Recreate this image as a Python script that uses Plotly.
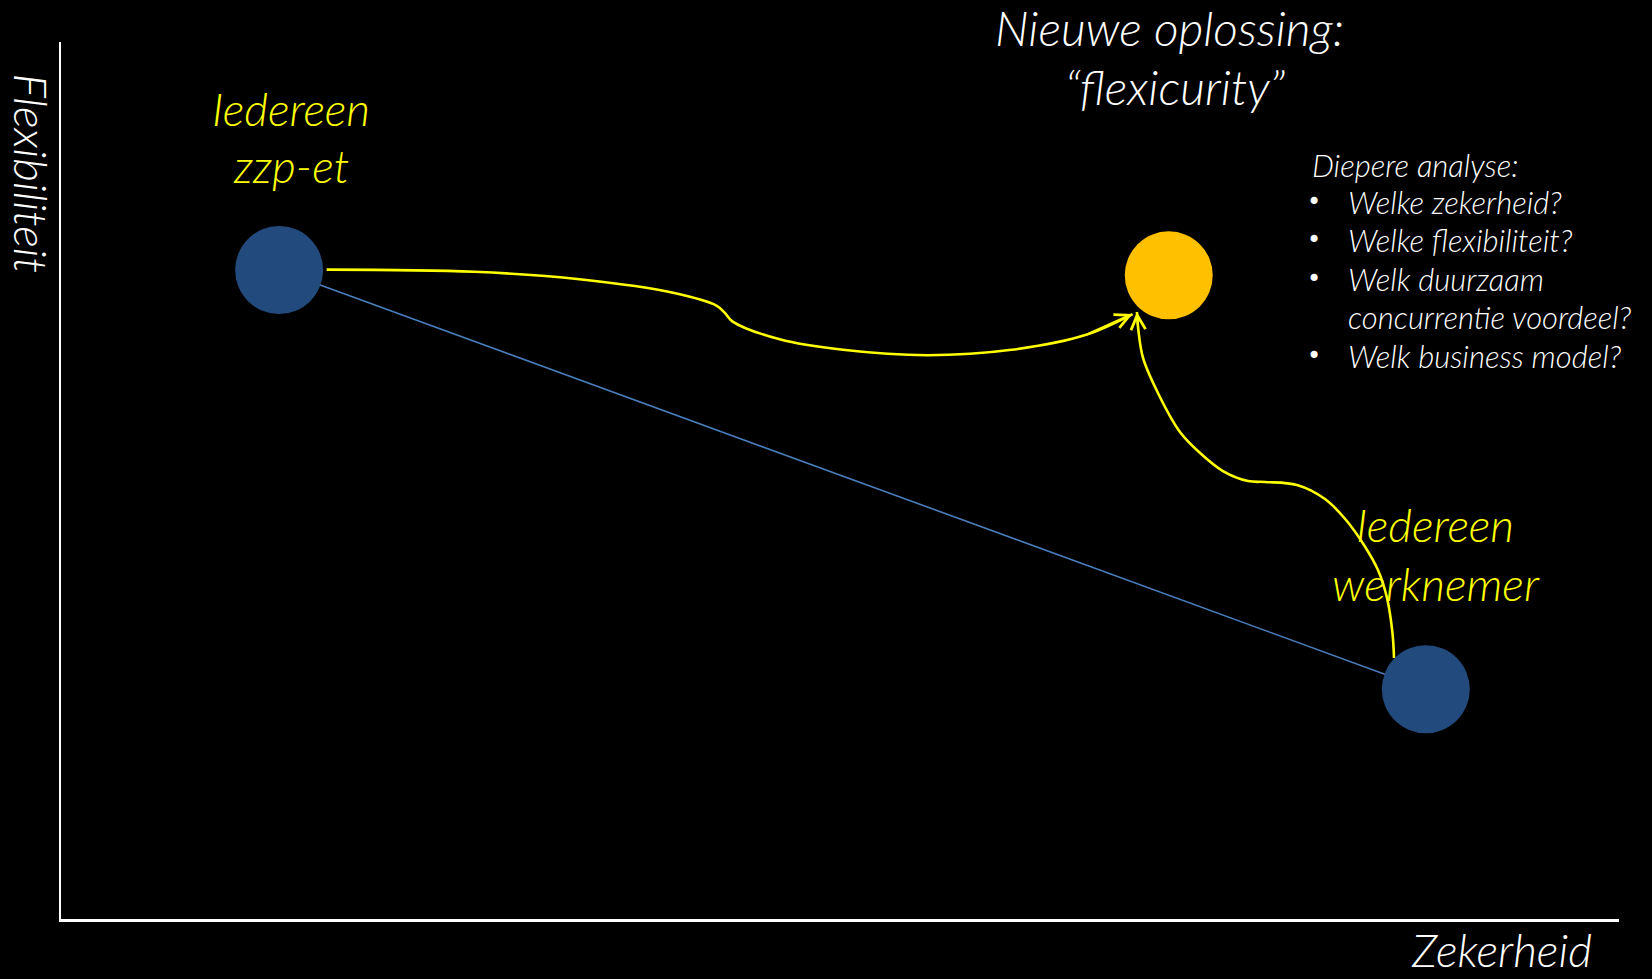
import plotly.graph_objects as go

# --- data (axis units 0..100) ---
node_names = ["Iedereen zzp-et", "Nieuwe oplossing", "Iedereen werknemer"]
node_x = [14.0, 71.1, 87.6]
node_y = [74.0, 73.4, 26.2]
node_colors = ["#234A7C", "#FFC000", "#234A7C"]

# straight trade-off line between the two extremes
trade_x = [14.0, 87.6]
trade_y = [74.0, 26.2]

# path from "Iedereen zzp-et" to the new solution
path1_x = [17.05, 26.52, 33.28, 39.36, 42.07, 42.61, 43.09, 46.13, 50.19, 55.60, 61.01, 65.74, 68.78]
path1_y = [74.04, 73.80, 72.95, 71.39, 69.95, 69.11, 68.15, 66.10, 64.90, 64.29, 64.90, 66.58, 68.98]

# path from "Iedereen werknemer" to the new solution
path2_x = [85.56, 85.46, 85.11, 84.53, 83.63, 82.48, 81.13, 79.33, 77.28, 76.19, 74.58, 73.04, 71.82, 70.47, 69.45, 69.13, 69.06]
path2_y = [29.76, 32.61, 36.60, 39.79, 42.65, 45.50, 47.89, 49.49, 49.83, 49.94, 51.08, 53.25, 55.53, 59.75, 63.97, 67.50, 69.21]

bullet_title = "Diepere analyse:"
bullet_items = ["Welke zekerheid?", "Welke flexibiliteit?", "Welk duurzaam", "concurrentie voordeel?", "Welk business model?"]
bullet_marks = [True, True, True, False, True]
bullet_rows = [81.76, 77.42, 72.98, 68.64, 64.20]

x_title = "Zekerheid"
y_title = "Flexibiliteit"

FONT = "Lato"
YELLOW = "#FFFF00"

fig = go.Figure()

fig.add_trace(go.Scatter(x=trade_x, y=trade_y, mode="lines",
                         line=dict(color="#4A7EBB", width=1.6), hoverinfo="skip"))
fig.add_trace(go.Scatter(x=path1_x, y=path1_y, mode="lines",
                         line=dict(color=YELLOW, width=2.6, shape="spline"), hoverinfo="skip"))
fig.add_trace(go.Scatter(x=path2_x, y=path2_y, mode="lines",
                         line=dict(color=YELLOW, width=2.6, shape="spline"), hoverinfo="skip"))
fig.add_trace(go.Scatter(x=node_x, y=node_y, mode="markers", text=node_names,
                         marker=dict(size=88, color=node_colors, line=dict(width=0)),
                         hoverinfo="text"))

ann = []
# arrowheads at the ends of both paths
for px, py in ((path1_x, path1_y), (path2_x, path2_y)):
    ann.append(dict(x=px[-1], y=py[-1], ax=px[-2], ay=py[-2], xref="x", yref="y",
                    axref="x", ayref="y", text="", showarrow=True, arrowhead=5,
                    arrowsize=1.3, arrowwidth=2.2, arrowcolor=YELLOW, standoff=0, startstandoff=0))

def txt(x, y, s, size, color="white", xanchor="center", textangle=0):
    return dict(x=x / 100, y=y / 100, xref="paper", yref="paper", text=s, showarrow=False,
                xanchor=xanchor, yanchor="middle", textangle=textangle,
                font=dict(family=FONT, size=size, color=color, style="italic", weight=300))

ann.append(txt(14.76, 92.47, "Iedereen", 46, YELLOW))
ann.append(txt(14.76, 85.97, "zzp-et", 46, YELLOW))
ann.append(txt(71.12, 101.6, "Nieuwe oplossing:", 48))
ann.append(txt(71.50, 94.98, "\u201cflexicurity\u201d", 48))
ann.append(txt(88.19, 44.93, "Iedereen", 46, YELLOW))
ann.append(txt(88.25, 38.31, "werknemer", 46, YELLOW))
ann.append(txt(80.17, 85.97, bullet_title, 31, xanchor="left"))
for item, mark, row in zip(bullet_items, bullet_marks, bullet_rows):
    if mark:
        ann.append(dict(x=0.8042, y=row / 100, xref="paper", yref="paper", text="\u2022",
                        showarrow=False, xanchor="center", yanchor="middle",
                        font=dict(family="DejaVu Sans", size=24, color="white")))
    ann.append(txt(82.48, row, item, 31, xanchor="left"))
ann.append(txt(-1.9, 84.95, y_title, 46, textangle=90))
ann.append(txt(92.43, -3.5, x_title, 46))

fig.update_layout(
    width=1652, height=979,
    paper_bgcolor="black", plot_bgcolor="black",
    margin=dict(l=61, r=33, t=42, b=60),
    showlegend=False,
    annotations=ann,
    xaxis=dict(range=[0, 100], showgrid=False, zeroline=False, showticklabels=False,
               ticks="", showline=True, linecolor="white", linewidth=2.5),
    yaxis=dict(range=[0, 100], showgrid=False, zeroline=False, showticklabels=False,
               ticks="", showline=True, linecolor="white", linewidth=2),
)

fig.write_html("out.html", config={"displayModeBar": False},
               post_script="document.body.style.margin='0';document.body.style.background='black';")
